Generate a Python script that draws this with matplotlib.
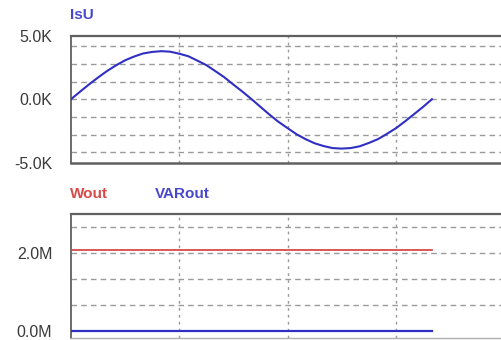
import matplotlib
matplotlib.use("Agg")
import matplotlib.pyplot as plt

plt.rcParams['font.family'] = ['Liberation Sans', 'DejaVu Sans']

# time axis in ms (grid every 5 ms), one 60 Hz period drawn
t_ms = [0.00, 0.42, 0.83, 1.25, 1.67, 2.08, 2.50, 2.92, 3.33, 3.75, 4.17,
        4.58, 5.00, 5.42, 5.83, 6.25, 6.67, 7.08, 7.50, 7.92, 8.33,
        8.75, 9.17, 9.58, 10.00, 10.42, 10.83, 11.25, 11.67, 12.08, 12.50,
        12.92, 13.33, 13.75, 14.17, 14.58, 15.00, 15.42, 15.83, 16.25, 16.67]
# IsU (kA)
isu_k = [0.00, 0.60, 1.17, 1.72, 2.24, 2.68, 3.08, 3.38, 3.62, 3.74, 3.80,
         3.76, 3.60, 3.40, 3.06, 2.70, 2.22, 1.74, 1.16, 0.60, 0.02,
         -0.60, -1.22, -1.78, -2.28, -2.77, -3.15, -3.48, -3.70, -3.86, -3.90,
         -3.86, -3.72, -3.46, -3.16, -2.75, -2.30, -1.76, -1.20, -0.62, 0.00]
# power outputs (M)
wout_m = [2.09, 2.09]
varout_m = [0.0, 0.0]
t_flat = [0.0, 16.67]

W, H = 502, 340
fig = plt.figure(figsize=(W / 100, H / 100), dpi=100)

grid_col = '#9a9a9a'
spine_col = '#606060'
tick_col = '#3a3a3a'
blue = '#2f2fc4'
red = '#d84a48'


def style_axes(ax, hlines):
    ax.set_xlim(0, 20)
    for y in hlines:
        ax.axhline(y, color=grid_col, lw=1.0, ls=(0, (4, 3)), zorder=1)
    for x in [5, 10, 15]:
        ax.axvline(x, color=grid_col, lw=1.0, ls=(0, (2, 3)), zorder=1)
    ax.spines['right'].set_visible(False)
    ax.spines['top'].set_color(spine_col)
    ax.spines['top'].set_linewidth(1.6)
    ax.spines['left'].set_color(spine_col)
    ax.spines['left'].set_linewidth(1.3)
    ax.spines['left'].set_linestyle((0, (3, 1)))
    ax.spines['bottom'].set_color(spine_col)
    ax.spines['bottom'].set_linewidth(1.8)
    ax.set_xticks([])
    ax.tick_params(axis='y', length=0, pad=13.5, labelsize=11.5, labelcolor=tick_col)


# top panel: IsU
ax1 = fig.add_axes([71 / W, 1 - 162.5 / H, 433 / W, 126.5 / H])
ax1.set_ylim(-5, 5)
style_axes(ax1, [-4.2, -2.8, -1.4, 0, 1.4, 2.8, 4.2])
ax1.plot(t_ms, isu_k, color=blue, lw=1.5, zorder=3)
ax1.set_yticks([5, 0, -5])
ax1.set_yticklabels(['5.0K', '0.0K', '-5.0K'])
fig.text(70 / W, 1 - 15 / H, 'IsU', color='#4848cc', fontsize=11,
         fontweight='bold', ha='left', va='center')

# bottom panel: Wout / VARout
ax2 = fig.add_axes([71 / W, 1 - 338 / H, 433 / W, 123.7 / H])
ax2.set_ylim(-0.19, 3.0)
style_axes(ax2, [2 / 3, 4 / 3, 2.0, 8 / 3])
ax2.spines['bottom'].set_color('#b0b0b0')
ax2.spines['bottom'].set_linewidth(1.0)
ax2.plot(t_flat, wout_m, color=red, lw=1.3, zorder=3)
ax2.plot(t_flat, varout_m, color=blue, lw=1.6, zorder=3)
ax2.set_yticks([2, 0])
ax2.set_yticklabels(['2.0M', '0.0M'])
fig.text(70 / W, 1 - 194 / H, 'Wout', color=red, fontsize=11,
         fontweight='bold', ha='left', va='center')
fig.text(155 / W, 1 - 194 / H, 'VARout', color='#4848cc', fontsize=11,
         fontweight='bold', ha='left', va='center')

fig.savefig('out.png', dpi=100)
